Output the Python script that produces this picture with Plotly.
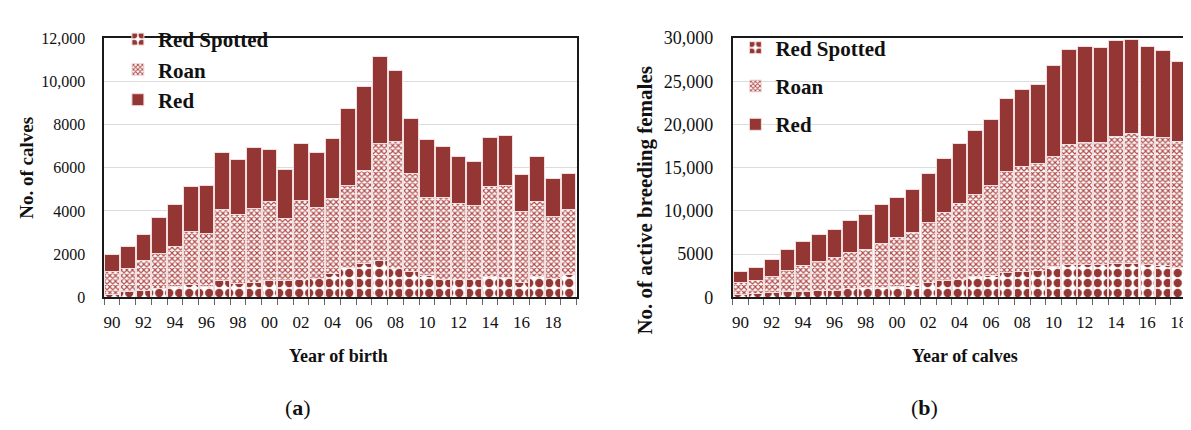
import plotly.graph_objects as go

years = [str(y) for y in range(1990, 2020)]
tick_labels = ["90", "92", "94", "96", "98", "00", "02", "04", "06", "08", "10", "12", "14", "16", "18"]

# (a) number of calves by year of birth
spotted_a = [150, 270, 340, 400, 500, 590, 520, 790, 660, 710, 770, 790, 850, 880, 1090,
             1380, 1590, 1690, 1350, 1180, 1000, 850, 850, 850, 960, 910, 710, 960, 880, 1060]
roan_a = [1030, 1060, 1380, 1630, 1850, 2470, 2430, 3280, 3160, 3400, 3650, 2880, 3650, 3270, 3470,
          3790, 4290, 5440, 5850, 4560, 3630, 3780, 3490, 3380, 4150, 4260, 3280, 3470, 2870, 2990]
red_a = [810, 1030, 1190, 1680, 1930, 2090, 2210, 2650, 2560, 2840, 2430, 2240, 2620, 2540, 2770,
         3570, 3900, 4020, 3310, 2530, 2660, 2340, 2190, 2070, 2310, 2300, 1690, 2070, 1750, 1680]

# (b) number of active breeding females by year of calves
spotted_b = [290, 440, 520, 660, 700, 810, 810, 1030, 1100, 1180, 1250, 1360, 1730, 1910, 2020,
             2390, 2570, 2830, 3050, 3130, 3570, 3750, 3820, 3820, 3930, 3930, 3790, 3680, 3460, 3380]
roan_b = [1470, 1540, 1950, 2430, 2940, 3380, 3820, 4150, 4410, 5070, 5730, 6100, 6910, 7900, 8820,
          9520, 10330, 11690, 12090, 12310, 12760, 13900, 14150, 14150, 14700, 15000, 14850, 14850, 14520, 14670]
red_b = [1250, 1470, 1880, 2430, 2790, 3090, 3240, 3680, 4040, 4490, 4600, 5000, 5700, 6250, 6910,
         7430, 7650, 8460, 8930, 9150, 10510, 11070, 11100, 10920, 11100, 10880, 10400, 10040, 9260, 8930]

yvals_a = [0, 2000, 4000, 6000, 8000, 10000, 12000]
ytext_a = ["0", "2000", "4000", "6000", "8000", "10,000", "12,000"]
yvals_b = [0, 5000, 10000, 15000, 20000, 25000, 30000]
ytext_b = ["0", "5000", "10,000", "15,000", "20,000", "25,000", "30,000"]

RED = "#943634"
EDGE = "#f2dede"
FONT = "Liberation Serif"
W, H = 1191, 430

ticktext = []
j = 0
for i, y in enumerate(years):
    if i % 2 == 0:
        ticktext.append(tick_labels[j])
        j += 1
    else:
        ticktext.append("")

fig = go.Figure()


def add_panel(spotted, roan, red, xa, ya, leg, grp):
    fig.add_trace(go.Bar(
        x=years, y=spotted, name="Red Spotted", xaxis=xa, yaxis=ya, legend=leg,
        legendgroup=grp + "s",
        marker=dict(color=RED, line=dict(color=EDGE, width=1),
                    pattern=dict(shape=".", size=10, solidity=0.55, fgcolor=RED,
                                 bgcolor="white", fillmode="replace"))))
    fig.add_trace(go.Bar(
        x=years, y=roan, name="Roan", xaxis=xa, yaxis=ya, legend=leg,
        legendgroup=grp + "r",
        marker=dict(color=RED, line=dict(color=EDGE, width=1),
                    pattern=dict(shape="x", size=4, solidity=0.5, fgcolor="#b04c4a",
                                 bgcolor="white", fillmode="replace"))))
    fig.add_trace(go.Bar(
        x=years, y=red, name="Red", xaxis=xa, yaxis=ya, legend=leg,
        legendgroup=grp + "d",
        marker=dict(color=RED, line=dict(color=EDGE, width=1))))


add_panel(spotted_a, roan_a, red_a, "x", "y", "legend", "a")
add_panel(spotted_b, roan_b, red_b, "x2", "y2", "legend2", "b")

y_dom = [1 - 293 / H, 1 - 21 / H]
common_x = dict(type="category", tickmode="array", tickvals=years, ticktext=ticktext,
                tickson="boundaries", ticks="outside", ticklen=6, tickcolor="#666666",
                tickwidth=1, showline=True, linecolor="#1a1a1a", linewidth=1.5,
                showgrid=False, ticklabelstandoff=8, tickangle=0,
                tickfont=dict(family=FONT, size=17, color="#111111"))
common_y = dict(showline=True, linecolor="#1a1a1a", linewidth=1.5, ticks="",
                showgrid=True, gridcolor="#dcdcdc", gridwidth=1.2, zeroline=False,
                tickfont=dict(family=FONT, size=16, color="#111111"),
                ticklabelstandoff=14, domain=y_dom)

fig.update_layout(
    width=W, height=H, margin=dict(l=0, r=0, t=0, b=0),
    paper_bgcolor="white", plot_bgcolor="white",
    barmode="stack", bargap=0.07,
    font=dict(family=FONT, color="#111111"),
    xaxis=dict(common_x, domain=[95.3 / W, 568 / W], range=[-0.5, 29.5], mirror=True, anchor="y"),
    yaxis=dict(common_y, range=[0, 12000], tickvals=yvals_a, ticktext=ytext_a, mirror=True, anchor="x"),
    xaxis2=dict(common_x, domain=[724.3 / W, 1.0], range=[-0.5, 29.3], mirror=True, anchor="y2"),
    yaxis2=dict(common_y, range=[0, 30000], tickvals=yvals_b, ticktext=ytext_b, mirror=False, anchor="x2",
                tickfont=dict(family=FONT, size=18, color="#111111")),
    legend=dict(x=109 / W, y=1 - 1 / H, xanchor="left", yanchor="top", traceorder="grouped",
                tracegroupgap=0, bgcolor="rgba(0,0,0,0)",
                font=dict(family=FONT, size=21, color="#111111", weight="bold")),
    legend2=dict(x=727 / W, y=1 - 10 / H, xanchor="left", yanchor="top", traceorder="grouped",
                 tracegroupgap=8, bgcolor="rgba(0,0,0,0)",
                 font=dict(family=FONT, size=21, color="#111111", weight="bold")),
)

annots = [
    dict(text="<b>No. of calves</b>", x=18 / W, y=1 - 157 / H, textangle=-90, size=19),
    dict(text="<b>No. of active breeding females</b>", x=637 / W, y=1 - 191 / H, textangle=-90, size=21),
    dict(text="<b>Year of birth</b>", x=330 / W, y=1 - 355 / H, textangle=0, size=18),
    dict(text="<b>Year of calves</b>", x=957 / W, y=1 - 355 / H, textangle=0, size=18),
    dict(text="(<b>a</b>)", x=289 / W, y=1 - 408 / H, textangle=0, size=22),
    dict(text="(<b>b</b>)", x=916 / W, y=1 - 408 / H, textangle=0, size=22),
]
for a in annots:
    fig.add_annotation(text=a["text"], x=a["x"], y=a["y"], xref="paper", yref="paper",
                       xanchor="center", yanchor="middle", textangle=a["textangle"],
                       showarrow=False, font=dict(family=FONT, size=a["size"], color="#111111"))

fig.write_html("out.html")
